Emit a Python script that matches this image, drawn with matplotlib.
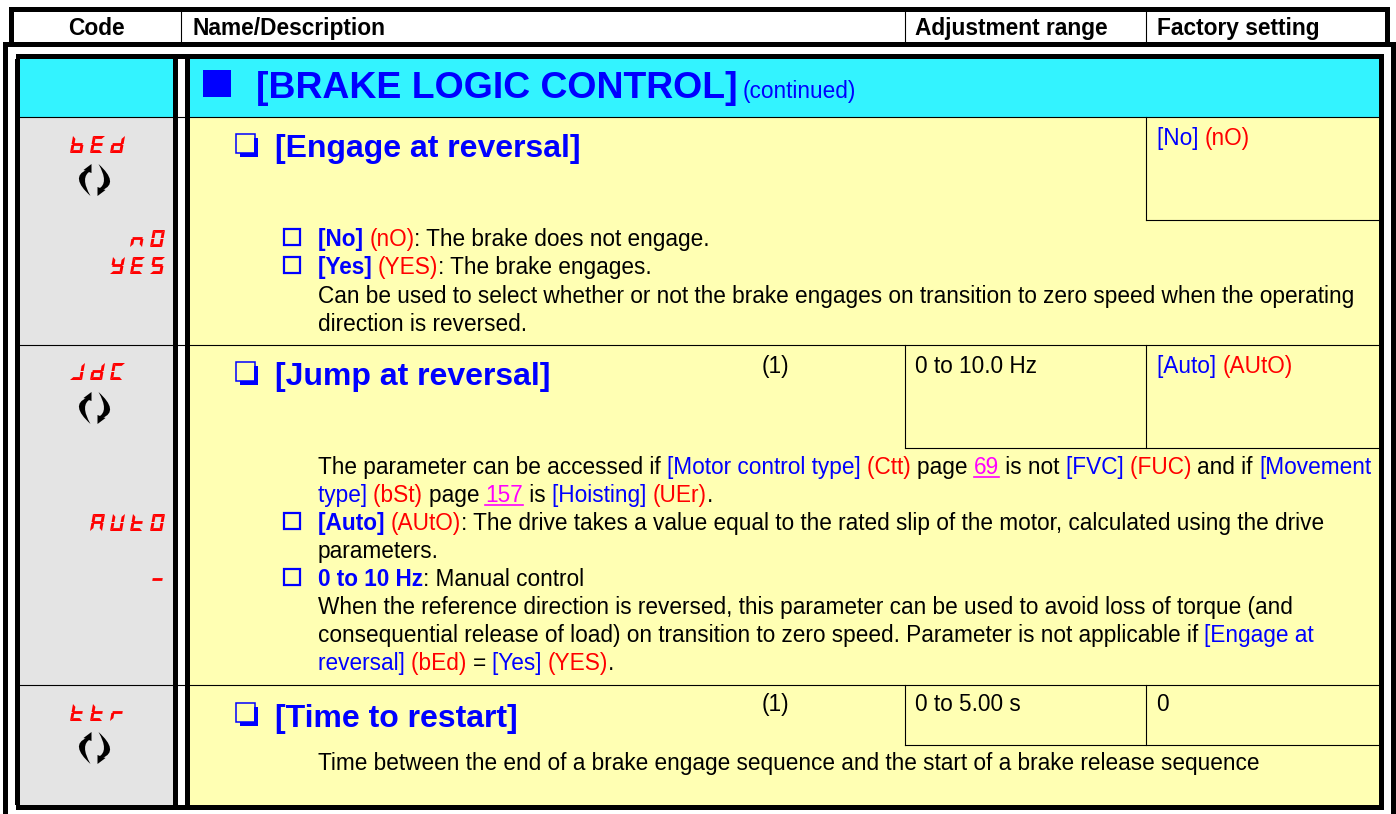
import matplotlib
matplotlib.use("Agg")
import matplotlib.pyplot as plt
from matplotlib.patches import Rectangle, Polygon, PathPatch
from matplotlib.path import Path

W, H = 1396, 814
BLUE = "#0000ff"
RED = "#ff0000"
BLACK = "#000000"
LINK = "#ff00ff"
CYAN = "#33f3ff"
YELLOW = "#ffffb3"
GRAY = "#e4e4e4"
BODY = 16.3

plt.rcParams["font.family"] = ["Liberation Sans", "DejaVu Sans"]

# (column label, x position)
header_labels = [("Code", 68), ("Name/Description", 193), ("Adjustment range", 915), ("Factory setting", 1157)]

# code column: text, top y
center_codes = [("bEd", 136), ("JdC", 363), ("ttr", 704)]
value_codes = [("nO", 230), ("YES", 257), ("AUtO", 514), ("-", 571)]

# parameter headings: checkbox top y, baseline, text
headings = [
    (134, 157, "[Engage at reversal]"),
    (362, 385, "[Jump at reversal]"),
    (703, 727, "[Time to restart]"),
]

# small cells on the right
cell_texts = [
    (1157, 145, [("[No] ", BLUE, "normal"), ("(nO)", RED, "normal")]),
    (915, 373, [("0 to 10.0 Hz", BLACK, "normal")]),
    (1157, 373, [("[Auto] ", BLUE, "normal"), ("(AUtO)", RED, "normal")]),
    (915, 711, [("0 to 5.00 s", BLACK, "normal")]),
    (1156, 711, [("0", BLACK, "normal")]),
    (762, 373, [("(1)", BLACK, "normal")]),
    (762, 711, [("(1)", BLACK, "normal")]),
]

# body lines: baseline, has small box, runs
body_lines = [
    (246, True, [("[No] ", BLUE, "bold"), ("(nO)", RED, "normal"), (": The brake does not engage.", BLACK, "normal")]),
    (274, True, [("[Yes] ", BLUE, "bold"), ("(YES)", RED, "normal"), (": The brake engages.", BLACK, "normal")]),
    (303, False, [("Can be used to select whether or not the brake engages on transition to zero speed when the operating", BLACK, "normal")]),
    (331, False, [("direction is reversed.", BLACK, "normal")]),
    (474, False, [("The parameter can be accessed if ", BLACK, "normal"), ("[Motor control type] ", BLUE, "normal"), ("(Ctt) ", RED, "normal"),
                  ("page ", BLACK, "normal"), ("69", LINK, "link"), (" is not ", BLACK, "normal"), ("[FVC] ", BLUE, "normal"),
                  ("(FUC) ", RED, "normal"), ("and if ", BLACK, "normal"), ("[Movement", BLUE, "normal")]),
    (502, False, [("type] ", BLUE, "normal"), ("(bSt) ", RED, "normal"), ("page ", BLACK, "normal"), ("157", LINK, "link"), (" is ", BLACK, "normal"),
                  ("[Hoisting] ", BLUE, "normal"), ("(UEr)", RED, "normal"), (".", BLACK, "normal")]),
    (530, True, [("[Auto] ", BLUE, "bold"), ("(AUtO)", RED, "normal"), (": The drive takes a value equal to the rated slip of the motor, calculated using the drive", BLACK, "normal")]),
    (558, False, [("parameters.", BLACK, "normal")]),
    (586, True, [("0 to 10 Hz", BLUE, "bold"), (": Manual control", BLACK, "normal")]),
    (614, False, [("When the reference direction is reversed, this parameter can be used to avoid loss of torque (and", BLACK, "normal")]),
    (642, False, [("consequential release of load) on transition to zero speed. Parameter is not applicable if ", BLACK, "normal"), ("[Engage at", BLUE, "normal")]),
    (670, False, [("reversal] ", BLUE, "normal"), ("(bEd) ", RED, "normal"), ("= ", BLACK, "normal"), ("[Yes] ", BLUE, "normal"), ("(YES)", RED, "normal"), (".", BLACK, "normal")]),
    (770, False, [("Time between the end of a brake engage sequence and the start of a brake release sequence", BLACK, "normal")]),
]

# seven segment shapes for the display codes
seg_map = {
    "b": "cdefg", "E": "adefg", "d": "bcdeg", "n": "ceg", "O": "abcdef", "Y": "bcdfg",
    "S": "acdfg", "J": "bcd", "C": "adef", "A": "abcefg", "U": "bcdef", "t": "defg",
    "r": "eg", "-": "g",
}

fig = plt.figure(figsize=(W / 100, H / 100), dpi=100)
ax = fig.add_axes([0, 0, 1, 1])
ax.set_xlim(0, W)
ax.set_ylim(H, 0)
ax.axis("off")
renderer = fig.canvas.get_renderer()


def box(x0, y0, x1, y1, color, z=1):
    ax.add_patch(Rectangle((x0, y0), x1 - x0, y1 - y0, facecolor=color, edgecolor="none", zorder=z))


def text_width(s, size, weight):
    t = ax.text(0, 0, s + "|", fontsize=size, fontweight=weight)
    w1 = t.get_window_extent(renderer).width
    t.set_text("|")
    w0 = t.get_window_extent(renderer).width
    t.remove()
    return w1 - w0


def draw_runs(x, y, runs, size=BODY):
    for txt, color, style in runs:
        weight = "bold" if style == "bold" else "normal"
        ax.text(x, y, txt, color=color, fontsize=size, fontweight=weight, va="baseline", ha="left", zorder=5)
        w = text_width(txt, size, weight)
        if style == "link":
            ax.plot([x, x + w], [y + 2.5, y + 2.5], color=color, lw=1.2, zorder=5)
        x += w


def seven_seg(x, y, ch, w=12, h=17, th=2.9, skew=3):
    def pt(px, py):
        return (x + px + skew * (1 - py / h), y + py)
    segs = {
        "a": [(0, 0), (w, 0), (w - th, th), (th, th)],
        "b": [(w, 0), (w, h / 2 - 0.5), (w - th, h / 2 - 0.5), (w - th, th)],
        "c": [(w, h / 2 + 0.5), (w, h), (w - th, h - th), (w - th, h / 2 + 0.5)],
        "d": [(0, h), (th, h - th), (w - th, h - th), (w, h)],
        "e": [(0, h / 2 + 0.5), (th, h / 2 + 0.5), (th, h - th), (0, h)],
        "f": [(0, 0), (th, th), (th, h / 2 - 0.5), (0, h / 2 - 0.5)],
        "g": [(1, h / 2 - 1.4), (w - 1, h / 2 - 1.4), (w - 1, h / 2 + 1.4), (1, h / 2 + 1.4)],
    }
    for s in seg_map[ch]:
        ax.add_patch(Polygon([pt(*p) for p in segs[s]], closed=True, facecolor=RED, edgecolor="none", zorder=5))


def seg_code(code, x_left, y):
    for i, ch in enumerate(code):
        seven_seg(x_left + i * 20, y, ch)


def rotate_icon(cx, cy):
    # left crescent with arrow head at the top, right one is the same turned half way
    crescent = [(-8, -10), (-25, -3), (-4, 16), (-15, -3), (-4, -9), (-8, -10)]
    codes = [Path.MOVETO, Path.CURVE3, Path.CURVE3, Path.CURVE3, Path.CURVE3, Path.CLOSEPOLY]
    head = [(-3, -16), (-11, -10), (-3, -7)]
    for sign in [1, -1]:
        pts = [(cx + 0.5 + sign * px, cy + sign * py) for px, py in crescent]
        ax.add_patch(PathPatch(Path(pts, codes), facecolor=BLACK, edgecolor="none", zorder=5))
        ax.add_patch(Polygon([(cx + 0.5 + sign * px, cy + sign * py) for px, py in head], closed=True,
                             facecolor=BLACK, edgecolor="none", zorder=5))


# outer frames
box(9, 7, 1390, 12, BLACK)
box(9, 7, 14, 47, BLACK)
box(1385, 7, 1390, 47, BLACK)
box(4, 42, 1396, 47, BLACK)
box(3, 42, 8, 814, BLACK)
box(1391, 42, 1396, 814, BLACK)

# inner table fills
box(20, 59, 173, 117, CYAN)
box(190, 59, 1379, 117, CYAN)
box(20, 117, 173, 805, GRAY)
box(190, 117, 1379, 805, YELLOW)

# thick inner frame
box(16, 54, 1384, 59, BLACK, 3)
box(15, 59, 20, 805, BLACK, 3)
box(1379, 54, 1384, 810, BLACK, 3)
box(16, 805, 1384, 810, BLACK, 3)
box(173, 59, 178, 805, BLACK, 3)
box(185, 59, 190, 805, BLACK, 3)

# thin rules
for y in [117, 345, 685]:
    ax.plot([20, 1379], [y, y], color=BLACK, lw=0.8, zorder=2)
for x in [181, 904.5, 1146]:
    ax.plot([x, x], [12, 42], color=BLACK, lw=0.8, zorder=2)
ax.plot([1146, 1146], [117, 220], color=BLACK, lw=0.8, zorder=2)
ax.plot([1146, 1379], [220, 220], color=BLACK, lw=0.8, zorder=2)
for x in [904.5, 1146]:
    ax.plot([x, x], [345, 448], color=BLACK, lw=0.8, zorder=2)
ax.plot([904.5, 1379], [448, 448], color=BLACK, lw=0.8, zorder=2)
for x in [904.5, 1146]:
    ax.plot([x, x], [685, 745], color=BLACK, lw=0.8, zorder=2)
ax.plot([904.5, 1379], [745, 745], color=BLACK, lw=0.8, zorder=2)

# header
for label, x in header_labels:
    ax.text(x, 35, label, fontsize=16.4, fontweight="bold", color=BLACK, va="baseline", zorder=5)

# section title
box(203, 70, 231, 97, BLUE, 4)
draw_runs(256, 98, [("[BRAKE LOGIC CONTROL]", BLUE, "bold")], size=26.9)
draw_runs(743, 98, [("(continued)", BLUE, "normal")])

# parameter headings
for top, base, label in headings:
    ax.add_patch(Rectangle((235.5, top), 19, 19, facecolor="none", edgecolor=BLUE, lw=1.1, zorder=4))
    box(240, top + 19, 258, top + 23, BLUE, 4)
    box(254, top + 4, 258, top + 23, BLUE, 4)
    draw_runs(275, base, [(label, BLUE, "bold")], size=23)

for x, y, runs in cell_texts:
    draw_runs(x, y, runs)

for base, has_box, runs in body_lines:
    if has_box:
        ax.add_patch(Rectangle((284, base - 17), 16, 16, facecolor="none", edgecolor=BLUE, lw=1.6, zorder=4))
    draw_runs(318, base, runs)

# display codes and rotating arrows
for code, top in center_codes:
    seg_code(code, 70, top)
for code, top in value_codes:
    seg_code(code, 165 - (len(code) * 20 - 5), top)
for cy in [180, 408, 748]:
    rotate_icon(94, cy)

fig.savefig("out.png", dpi=100, facecolor="white")
